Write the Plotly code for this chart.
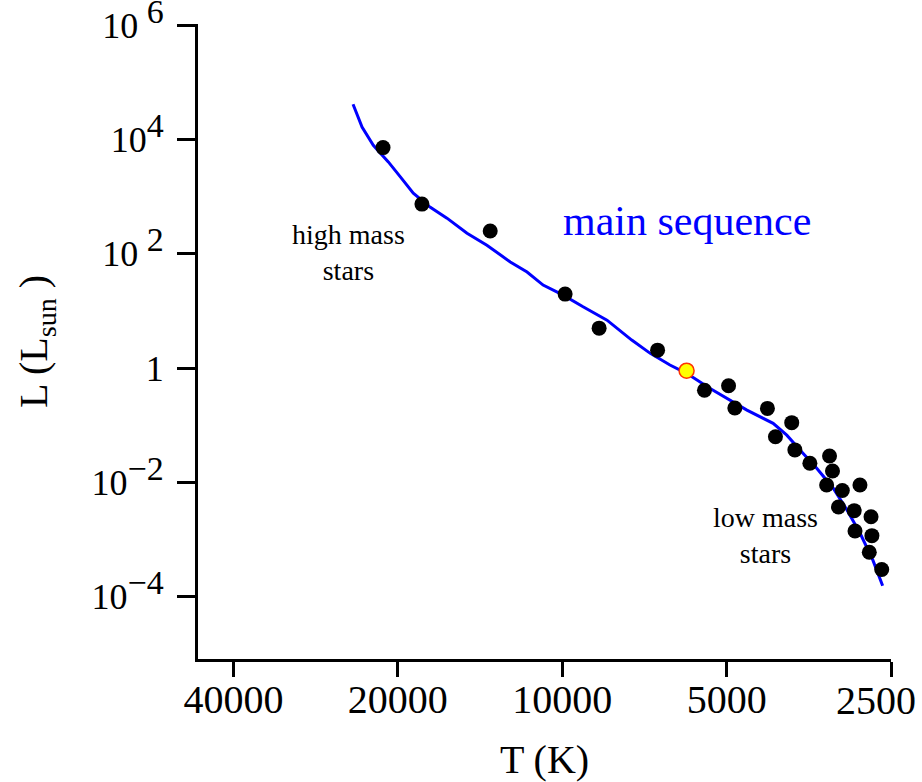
import plotly.graph_objects as go

# ---- data ----
star_T = [21290, 18070, 13550, 9880, 8560, 6690, 5490, 4960, 4830, 4210, 3800, 4070, 3750,
          3520, 3240, 3200, 3280, 3070, 2850, 3120, 2920, 2720, 2910, 2710, 2740, 2600]
star_L = [7200, 740, 250, 19.7, 5.0, 2.06, 0.41, 0.49, 0.20, 0.197, 0.111, 0.063, 0.037,
          0.0216, 0.029, 0.0158, 0.009, 0.0072, 0.009, 0.0037, 0.0032, 0.0025, 0.00141,
          0.00117, 0.0006, 0.0003]

sun_T = [5920]
sun_L = [0.90]

ms_T = [24160, 23260, 22180, 20820, 19790, 18740, 17440, 16260, 14940, 13740, 12450, 11600,
        10840, 9960, 9160, 8280, 7460, 6900, 6350, 5920, 5360, 4860, 4590, 4110, 3880, 3670,
        3420, 3190, 3010, 2850, 2700, 2590]
ms_L = [41200, 16500, 7900, 4050, 2210, 1150, 650, 420, 229, 141, 72, 48, 28.3, 18.9, 11.8,
        6.9, 3.09, 1.81, 1.13, 0.81, 0.44, 0.258, 0.184, 0.108, 0.067, 0.037, 0.0177, 0.0079,
        0.0033, 0.0013, 0.00044, 0.000155]

x_tickvals = [40000, 20000, 10000, 5000, 2500]
x_ticktext = ["40000", "20000", "10000", "5000", "2500"]

y_tickvals = [1e6, 1e4, 1e2, 1, 1e-2, 1e-4]
y_sup = [" 6", "4", " 2", None, "\u22122", "\u22124"]

SERIF = "Liberation Serif, Times New Roman, serif"
SUPSIZE = 34


def ylabel(s):
    if s is None:
        return "1"
    return "10<sup><span style='font-size:%dpx'>%s</span></sup>" % (SUPSIZE, s)


y_ticktext = [ylabel(s) for s in y_sup]

# the last x label sits at the right edge of the picture (its tick is the end of
# the axis); it is drawn as an annotation nudged left so it stays inside the page
x_axis_ticktext = x_ticktext[:-1] + [""]

fig = go.Figure()

fig.add_trace(go.Scatter(
    x=ms_T, y=ms_L, mode="lines",
    line=dict(color="#0000ff", width=3),
    hoverinfo="skip", name="main sequence"))

fig.add_trace(go.Scatter(
    x=star_T, y=star_L, mode="markers",
    marker=dict(color="black", size=15, line=dict(width=0)),
    name="stars"))

fig.add_trace(go.Scatter(
    x=sun_T, y=sun_L, mode="markers",
    marker=dict(color="#ffff00", size=15, line=dict(color="#ff3300", width=1.5)),
    name="Sun"))

fig.update_xaxes(
    type="log", range=[4.667, 3.398],
    tickmode="array", tickvals=x_tickvals, ticktext=x_axis_ticktext,
    ticks="outside", ticklen=15, tickwidth=3, tickcolor="black",
    showline=True, linewidth=3, linecolor="black", mirror=False,
    showgrid=False, zeroline=False,
    ticklabeloverflow="allow", ticklabelstandoff=-12,
    tickfont=dict(family=SERIF, size=40, color="black"),
    title=dict(text="\u00a0\u00a0T (K)", font=dict(family=SERIF, size=40, color="black"), standoff=26),
)

fig.update_yaxes(
    type="log", range=[-5.09, 6.02],
    tickmode="array", tickvals=y_tickvals, ticktext=y_ticktext,
    ticks="outside", ticklen=18, tickwidth=3, tickcolor="black",
    showline=True, linewidth=3, linecolor="black", mirror=False,
    showgrid=False, zeroline=False,
    ticklabeloverflow="allow", ticklabelstandoff=6,
    tickfont=dict(family=SERIF, size=36, color="black"),
    title=dict(text="L (L<sub>sun</sub> )", font=dict(family=SERIF, size=40, color="black"), standoff=32),
)

# label of the 2500 tick (right end of the x axis = paper x 1)
fig.add_annotation(x=1, y=0, xref="paper", yref="paper",
                   text=x_ticktext[-1], showarrow=False,
                   xanchor="right", yanchor="top", xshift=27, yshift=-17,
                   font=dict(family=SERIF, size=40, color="black"))

fig.add_annotation(x=3.7713, y=2.570, xref="x", yref="y", text="main sequence",
                   showarrow=False, xanchor="center", yanchor="middle",
                   font=dict(family=SERIF, size=42, color="#0000ff"))
fig.add_annotation(x=4.3916, y=2.019, xref="x", yref="y", text="high mass<br>stars",
                   showarrow=False, xanchor="center", yanchor="middle",
                   font=dict(family=SERIF, size=28, color="black"))
fig.add_annotation(x=3.6286, y=-2.928, xref="x", yref="y", text="low mass<br>stars",
                   showarrow=False, xanchor="center", yanchor="middle",
                   font=dict(family=SERIF, size=28, color="black"))

fig.update_layout(
    width=922, height=782,
    margin=dict(l=198, r=31, t=24, b=123, autoexpand=False),
    paper_bgcolor="white", plot_bgcolor="white",
    showlegend=False,
)

fig.write_html("out.html")
